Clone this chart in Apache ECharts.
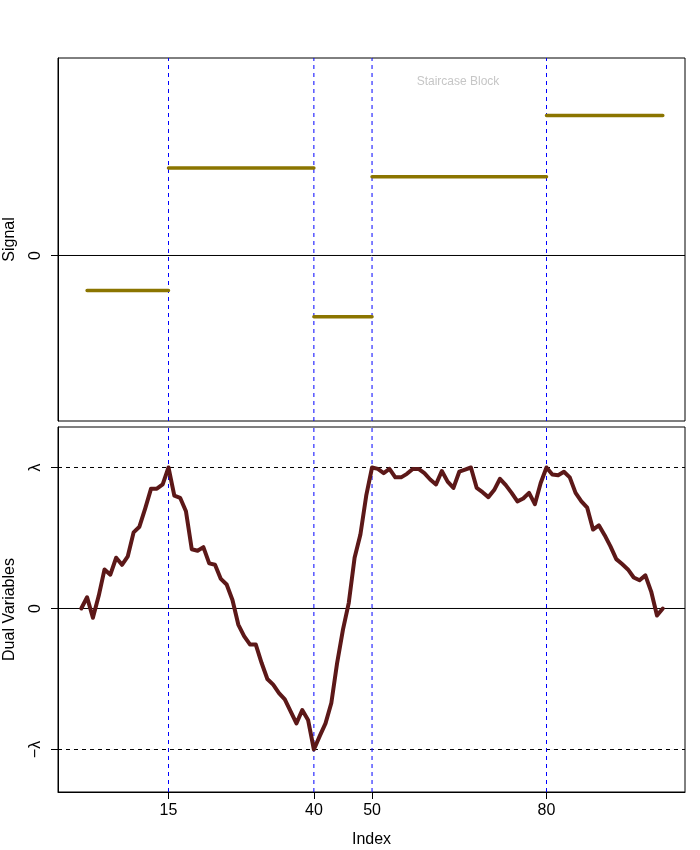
<!DOCTYPE html>
<html>
<head>
<meta charset="utf-8">
<script src="https://cdn.jsdelivr.net/npm/echarts@6/dist/echarts.min.js"></script>
<style>
  html, body { margin: 0; padding: 0; background: #fff; }
  #chart { width: 700px; height: 850px; }
</style>
</head>
<body>
<div id="chart"></div>
<script>
// ---- data ----
const changepoints = [15, 40, 50, 80];
const segStarts = [1, 15, 40, 50, 80];
const segEnds = [15, 40, 50, 80, 100];
const segLevels = [-1, 2.5, -1.75, 2.25, 4];
const lambda = 1;
const dualValues = [
  0, 0.08, -0.066, 0.09, 0.277, 0.24, 0.36, 0.31, 0.37, 0.54,
  0.58, 0.71, 0.85, 0.85, 0.88, 1.0, 0.80, 0.785, 0.69, 0.42,
  0.41, 0.435, 0.32, 0.31, 0.21, 0.17, 0.06, -0.114, -0.196, -0.255,
  -0.255, -0.385, -0.50, -0.54, -0.60, -0.645, -0.73, -0.815, -0.72, -0.79,
  -1.0, -0.905, -0.815, -0.67, -0.385, -0.15, 0.04, 0.36, 0.525, 0.80,
  1.0, 0.99, 0.96, 0.99, 0.93, 0.93, 0.955, 0.99, 0.99, 0.96,
  0.915, 0.88, 0.975, 0.90, 0.855, 0.97, 0.985, 1.0, 0.855, 0.825,
  0.79, 0.84, 0.92, 0.875, 0.82, 0.76, 0.78, 0.82, 0.74, 0.89,
  1.0, 0.95, 0.945, 0.97, 0.93, 0.82, 0.76, 0.715, 0.56, 0.59,
  0.52, 0.44, 0.35, 0.315, 0.277, 0.22, 0.20, 0.235, 0.12, -0.05,
  0
];
const xTickValues = [15, 40, 50, 80];
const topYTicks = [0];
const bottomYTicks = [-1, 0, 1];
const bottomYTickLabels = ['\u2212\u03bb', '0', '\u03bb'];
const titleText = 'Staircase Block';

// ---- axis ranges ----
const X_MIN = -4.0013, X_MAX = 103.816;
const TOP_MIN = -4.729, TOP_MAX = 5.643;
const BOT_MIN = -1.3014, BOT_MAX = 1.2872;

// ---- build ----
const FONT = "'Liberation Sans', Arial, sans-serif";
const stairData = [];
segStarts.forEach((s, k) => {
  stairData.push([s, segLevels[k]]);
  stairData.push([segEnds[k], segLevels[k]]);
  if (k < segStarts.length - 1) stairData.push([segEnds[k], '-']);
});
const dualData = dualValues.map((v, i) => [i, v * lambda]);

function vLineData(ymin, ymax) {
  const d = [];
  changepoints.forEach((c, k) => {
    if (k > 0) d.push([c, '-']);
    d.push([c, ymin]); d.push([c, ymax]);
  });
  return d;
}
function hLineData(vals) {
  const d = [];
  vals.forEach((v, k) => {
    if (k > 0) d.push([X_MIN, '-']);
    d.push([X_MIN, v]); d.push([X_MAX, v]);
  });
  return d;
}
const dash = [4, 4];
function refSeries(xi, yi, data, color, type) {
  return { type: 'line', xAxisIndex: xi, yAxisIndex: yi, data: data, z: 1, silent: true,
    symbol: 'none', showSymbol: false, connectNulls: false, clip: true,
    lineStyle: { color: color, type: type, width: 1 }, emphasis: { disabled: true } };
}
const axisLineOn = { show: true, onZero: false, lineStyle: { color: '#000', width: 1 } };

const chart = echarts.init(document.getElementById('chart'), null, { renderer: 'canvas' });
chart.setOption({
  animation: false,
  backgroundColor: '#ffffff',
  textStyle: { fontFamily: FONT },
  graphic: [{
    type: 'text', x: 458, y: 82,
    style: { text: titleText, fill: '#c6c6c6', font: '12px ' + FONT, textAlign: 'center', textVerticalAlign: 'middle' }
  }],
  grid: [
    { left: 58, top: 58, width: 627, height: 363, containLabel: false, outerBoundsMode: 'none', show: true, borderColor: '#000', borderWidth: 1, backgroundColor: 'transparent' },
    { left: 58, top: 427, width: 627, height: 365, containLabel: false, outerBoundsMode: 'none', show: true, borderColor: '#000', borderWidth: 1, backgroundColor: 'transparent' }
  ],
  xAxis: [
    { gridIndex: 0, type: 'value', min: X_MIN, max: X_MAX, axisLine: { show: false, onZero: false }, axisTick: { show: false }, axisLabel: { show: false }, splitLine: { show: false } },
    { gridIndex: 1, type: 'value', min: X_MIN, max: X_MAX,
      axisLine: axisLineOn,
      axisTick: { show: true, inside: false, length: 7, customValues: xTickValues, lineStyle: { color: '#000', width: 1 } },
      axisLabel: { show: true, customValues: xTickValues, fontSize: 16, color: '#000', margin: 11, fontFamily: FONT },
      splitLine: { show: false },
      name: 'Index', nameLocation: 'middle', nameGap: 40,
      nameTextStyle: { fontSize: 16, color: '#000', fontFamily: FONT } }
  ],
  yAxis: [
    { gridIndex: 0, type: 'value', min: TOP_MIN, max: TOP_MAX,
      axisLine: axisLineOn,
      axisTick: { show: true, inside: false, length: 7, customValues: topYTicks, lineStyle: { color: '#000', width: 1 } },
      axisLabel: { show: true, customValues: topYTicks, rotate: 90, fontSize: 16, color: '#000', margin: 14, fontFamily: FONT },
      splitLine: { show: false },
      name: 'Signal', nameLocation: 'middle', nameGap: 40,
      nameTextStyle: { fontSize: 16, color: '#000', fontFamily: FONT } },
    { gridIndex: 1, type: 'value', min: BOT_MIN, max: BOT_MAX,
      axisLine: axisLineOn,
      axisTick: { show: true, inside: false, length: 7, customValues: bottomYTicks, lineStyle: { color: '#000', width: 1 } },
      axisLabel: { show: true, customValues: bottomYTicks, rotate: 90, fontSize: 16, color: '#000', margin: 14, fontFamily: FONT,
        formatter: v => { const k = bottomYTicks.indexOf(Math.round(v * 1000) / 1000); return k >= 0 ? bottomYTickLabels[k] : ''; } },
      splitLine: { show: false },
      name: 'Dual Variables', nameLocation: 'middle', nameGap: 40,
      nameTextStyle: { fontSize: 16, color: '#000', fontFamily: FONT } }
  ],
  series: [
    refSeries(0, 0, hLineData([0]), '#000000', 'solid'),
    refSeries(0, 0, vLineData(TOP_MIN, TOP_MAX), '#0000ff', dash),
    { type: 'line', xAxisIndex: 0, yAxisIndex: 0, data: stairData, z: 3, symbol: 'none', showSymbol: false,
      connectNulls: false, lineStyle: { color: '#8b7500', width: 3.5, cap: 'round' } },
    refSeries(1, 1, hLineData([lambda, -lambda]), '#000000', dash),
    refSeries(1, 1, hLineData([0]), '#000000', 'solid'),
    refSeries(1, 1, vLineData(BOT_MIN, BOT_MAX), '#0000ff', dash),
    { type: 'line', xAxisIndex: 1, yAxisIndex: 1, data: dualData, z: 3, symbol: 'none', showSymbol: false,
      lineStyle: { color: '#5c1818', width: 4, join: 'round', cap: 'round' } }
  ]
});
</script>
</body>
</html>
